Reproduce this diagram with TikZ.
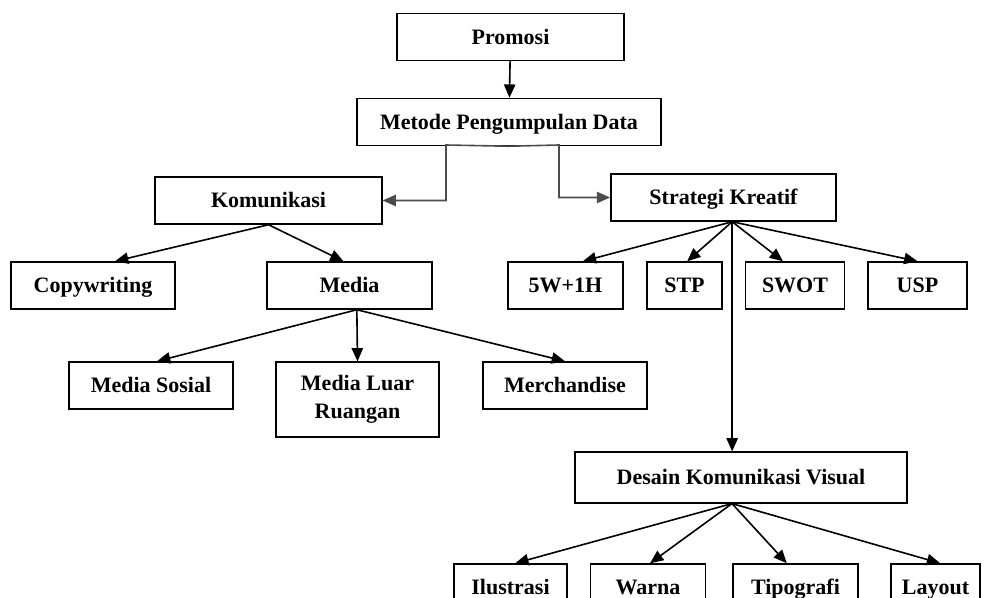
\documentclass[tikz,border=0pt]{standalone}
\usepackage{fontspec}
\setmainfont{Liberation Serif}
\usepackage{tikz}
\usetikzlibrary{arrows.meta, positioning, calc}

\begin{document}
\begin{tikzpicture}[
    x=0.75pt, y=-0.75pt,
    basebox/.style={draw, line width=1.1pt, fill=white, align=center,
                minimum height=35.25pt, inner sep=2pt,
                font=\bfseries\fontsize{16.5}{21}\selectfont},
    box/.style={basebox, text height=14pt, text depth=3pt},
    arr/.style={-{Triangle[length=10pt,width=8.5pt]}, line width=1.2pt},
    elbow/.style={arr, draw=black!70}
  ]
  \clip (0,0) rectangle (998,598);
  \fill[white] (0,0) rectangle (998,598);
  % top
  \node[box, minimum width=170pt] (promosi) at (510.5,37)  {Promosi};
  \node[box, minimum width=228pt] (metode)  at (509,122)   {Metode Pengumpulan Data};
  % second level
  \node[box, minimum width=170pt] (komunikasi) at (268.5,200.5) {Komunikasi};
  \node[box, minimum width=169pt] (strategi)   at (723.5,197.5) {Strategi Kreatif};
  % komunikasi branch
  \node[box, minimum width=123pt] (copy)  at (93,285.5)    {Copywriting};
  \node[box, minimum width=124pt] (media) at (349.5,285.5) {Media};
  \node[box, minimum width=123pt] (sosial) at (151,385.5)  {Media Sosial};
  \node[basebox, minimum width=122pt, minimum height=56pt] (luar) at (357.5,399.5) {Media Luar\\Ruangan};
  \node[box, minimum width=123pt] (merch) at (565,385.5)   {Merchandise};
  % strategi branch
  \node[box, minimum width=86pt] (wh)   at (565.5,285.5) {5W+1H};
  \node[box, minimum width=56pt] (stp)  at (684.5,285.5) {STP};
  \node[box, minimum width=74pt] (swot) at (795,285.5)   {SWOT};
  \node[box, minimum width=74pt] (usp)  at (917.5,285.5) {USP};
  \node[box, minimum width=249pt, minimum height=38pt] (dkv) at (741,477.5) {Desain Komunikasi Visual};
  \node[box, minimum width=85pt] (ilus)   at (510.5,587.5) {Ilustrasi};
  \node[box, minimum width=86pt] (warna)  at (648,587.5)   {Warna};
  \node[box, minimum width=94pt] (tipo)   at (795.5,587.5) {Tipografi};
  \node[box, minimum width=67pt] (layout) at (935.5,587.5) {Layout};

  \coordinate (elbowL) at (446,145);
  \coordinate (elbowR) at (559,145);
  \coordinate (skb) at ([xshift=6.5pt]strategi.south);
  \coordinate (dkb) at ([xshift=-6.75pt]dkv.south);

  \draw[arr] (promosi) -- (metode);
  \draw[elbow] (metode.south) -- (elbowL) |- (komunikasi.east);
  \draw[elbow] (metode.south) -- (elbowR) |- (strategi.west);

  \draw[arr] (komunikasi.south) -- ([xshift=16.5pt]copy.north);
  \draw[arr] (komunikasi.south) -- ([xshift=-4.5pt]media.north);
  \draw[arr] ([xshift=5.5pt]media.south) -- ([xshift=4.5pt]sosial.north);
  \draw[arr] ([xshift=5.5pt]media.south) -- (luar.north);
  \draw[arr] ([xshift=5.5pt]media.south) -- (merch.north);

  \draw[arr] (skb) -- ([xshift=13pt]wh.north);
  \draw[arr] (skb) -- ([xshift=2pt]stp.north);
  \draw[arr] (skb) -- ([xshift=-9pt]swot.north);
  \draw[arr] (skb) -- (usp.north);
  \draw[arr] (skb) -- (skb |- dkv.north);

  \draw[arr] (dkb) -- ([xshift=3.5pt]ilus.north);
  \draw[arr] (dkb) -- ([xshift=1.5pt]warna.north);
  \draw[arr] (dkb) -- ([xshift=-6.5pt]tipo.north);
  \draw[arr] (dkb) -- ([xshift=3.5pt]layout.north);
\end{tikzpicture}
\end{document}
